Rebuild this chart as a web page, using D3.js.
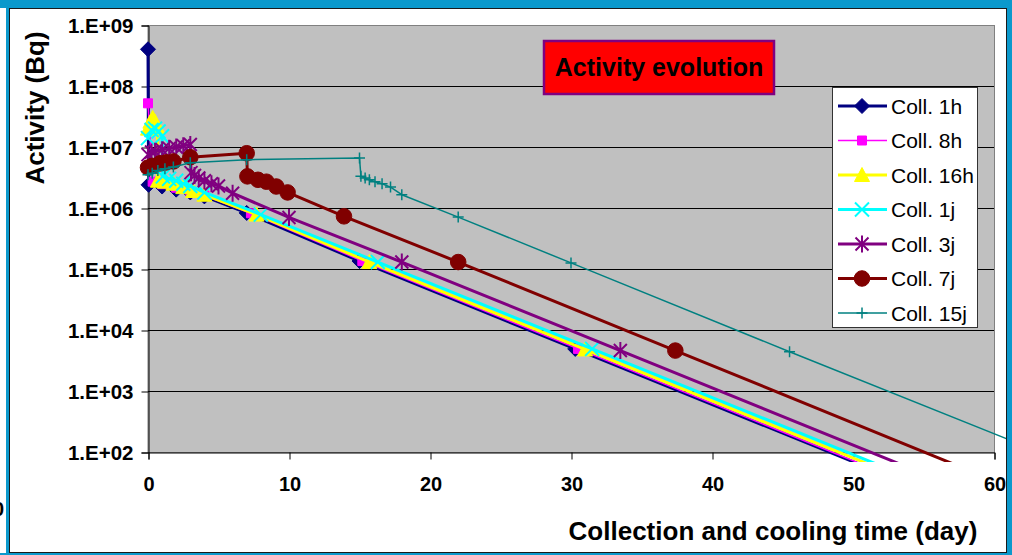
<!DOCTYPE html>
<html>
<head>
<meta charset="utf-8">
<script src="https://cdn.jsdelivr.net/npm/d3@7"></script>
<style>
  body { margin: 0; background: #0b99cc; }
  svg { display: block; }
  text { font-family: "Liberation Sans", Arial, sans-serif; }
</style>
</head>
<body>
<svg id="chart" width="1012" height="555"></svg>
<script>
const seriesNames = ["Coll. 1h", "Coll. 8h", "Coll. 16h", "Coll. 1j", "Coll. 3j", "Coll. 7j", "Coll. 15j"];

const coll1h = [[0, 4.0e8], [0.04, 2.4e6], [1, 2.25e6], [2, 2.0e6], [3, 1.8e6], [4, 1.55e6],
  [7, 8.3e5], [15, 1.35e5], [30.3, 4.9e3], [60, 8]];
const coll8h = [[0, 5.2e7], [0.33, 2.7e6], [1, 2.45e6], [2, 2.15e6], [3, 1.9e6], [4, 1.6e6],
  [7.3, 8.2e5], [15.2, 1.35e5], [30.5, 4.9e3], [60, 8.3]];
const coll16h = [[0, 2.0e7], [0.17, 2.6e7], [0.33, 3.0e7], [0.5, 2.6e7], [0.67, 2.1e7],
  [0.7, 2.8e6], [1.2, 2.7e6], [1.8, 2.5e6], [2.5, 2.2e6], [3.2, 1.9e6], [4, 1.65e6],
  [7.7, 7.8e5], [15.7, 1.3e5], [31, 4.8e3], [60, 9.3]];
const coll1j = [[0, 1.4e7], [0.25, 1.9e7], [0.5, 2.0e7], [0.75, 1.8e7], [1, 1.5e7],
  [1.05, 3.3e6], [1.5, 3.0e6], [2, 2.8e6], [2.5, 2.5e6], [3, 2.3e6], [4, 1.8e6],
  [8, 7.8e5], [16.3, 1.3e5], [31.5, 4.9e3], [60, 10.5]];
const coll3j = [[0, 7.5e6], [0.25, 8.3e6], [0.5, 8.5e6], [1, 9.0e6], [1.5, 9.5e6], [2, 1.0e7],
  [2.5, 1.05e7], [3, 1.1e7], [3.05, 3.8e6], [3.3, 3.4e6], [3.6, 3.1e6], [4, 2.8e6],
  [4.5, 2.5e6], [5, 2.3e6], [6, 1.75e6], [10, 7.0e5], [18, 1.3e5], [33.5, 4.6e3], [60, 15]];
const coll7j = [[0, 4.6e6], [0.3, 4.9e6], [0.85, 5.4e6], [1.3, 5.6e6], [1.8, 5.8e6], [3, 6.8e6],
  [7, 7.9e6], [7.05, 3.3e6], [7.8, 2.9e6], [8.4, 2.7e6], [9.1, 2.25e6], [9.9, 1.8e6],
  [13.9, 7.3e5], [22, 1.3e5], [37.4, 4.6e3], [60, 34]];
const coll15j = [[0, 3.5e6], [0.3, 3.7e6], [0.7, 4.1e6], [1.2, 4.4e6], [1.8, 4.7e6], [3, 5.5e6],
  [7, 6.2e6], [15, 6.6e6], [15.1, 3.3e6], [15.4, 3.1e6], [15.7, 2.9e6],
  [16.1, 2.7e6], [16.6, 2.5e6], [17.2, 2.2e6], [18, 1.65e6], [22, 7.1e5], [30, 1.26e5],
  [45.5, 4.4e3], [62, 130]];

const allSeries = [coll1h, coll8h, coll16h, coll1j, coll3j, coll7j, coll15j];

const yTicks = [1e2, 1e3, 1e4, 1e5, 1e6, 1e7, 1e8, 1e9];
const xTicks = [0, 10, 20, 30, 40, 50, 60];

// look of each series
const looks = [
  { color: "#000080", width: 3, marker: "diamond" },
  { color: "#ff00ff", width: 1.5, marker: "square" },
  { color: "#ffff00", width: 3, marker: "triangle" },
  { color: "#00ffff", width: 3, marker: "cross" },
  { color: "#800080", width: 3, marker: "star" },
  { color: "#800000", width: 3, marker: "circle" },
  { color: "#008080", width: 1.5, marker: "plus" }
];

const svg = d3.select("#chart");

// frame
svg.append("rect").attr("x", 0).attr("y", 8).attr("width", 6).attr("height", 545).attr("fill", "#fff");
svg.append("text").attr("x", -7).attr("y", 516).attr("font-size", 20).attr("font-weight", "bold").text("0");
svg.append("rect").attr("x", 9.5).attr("y", 8.5).attr("width", 997).attr("height", 544)
  .attr("fill", "#fff").attr("stroke", "#1a1a1a").attr("stroke-width", 1);

const pLeft = 148, pRight = 994, pTop = 25, pBottom = 452;

const x = d3.scaleLinear().domain([0, 60]).range([pLeft, pRight]);
const y = d3.scaleLog().domain([1e2, 1e9]).range([pBottom, pTop]);

// plot area
svg.append("rect").attr("x", pLeft).attr("y", pTop + 0.5).attr("width", pRight - pLeft + 0.5).attr("height", pBottom - pTop)
  .attr("fill", "#c0c0c0").attr("stroke", "#808080").attr("stroke-width", 1);

svg.append("g").selectAll("line")
  .data(yTicks.slice(1, -1))
  .join("line")
  .attr("x1", pLeft).attr("x2", pRight)
  .attr("y1", d => Math.round(y(d)) + 0.5).attr("y2", d => Math.round(y(d)) + 0.5)
  .attr("stroke", "#000").attr("stroke-width", 1);

// axes
const yAxis = svg.append("g").attr("transform", `translate(${pLeft + 0.5},0.5)`)
  .call(d3.axisLeft(y).tickValues(yTicks).tickSizeOuter(0).tickSize(7).tickPadding(8)
    .tickFormat(d => "1.E+" + String(Math.round(Math.log10(d))).padStart(2, "0")));
yAxis.select(".domain").attr("stroke", "#000");
yAxis.selectAll(".tick text").attr("font-size", 20.5).attr("font-weight", "bold").attr("fill", "#000")
  .attr("font-family", "'Liberation Sans', Arial, sans-serif");

const xAxis = svg.append("g").attr("transform", `translate(0.5,${pBottom + 0.5})`)
  .call(d3.axisBottom(x).tickValues(xTicks).tickSizeOuter(0).tickSize(7).tickPadding(17));
xAxis.select(".domain").attr("stroke", "#000");
xAxis.selectAll(".tick text").attr("font-size", 20).attr("font-weight", "bold").attr("fill", "#000")
  .attr("font-family", "'Liberation Sans', Arial, sans-serif");

// series
svg.append("clipPath").attr("id", "clip")
  .append("rect").attr("x", 0).attr("y", 0).attr("width", 1006).attr("height", 462);

function markerPath(type) {
  switch (type) {
    case "diamond": return "M0,-7.5L7.5,0L0,7.5L-7.5,0Z";
    case "square": return "M-4.5,-4.5H4.5V4.5H-4.5Z";
    case "triangle": return "M0,-7.5L7.5,6.5L-7.5,6.5Z";
    case "cross": return "M-7,-7L7,7M7,-7L-7,7";
    case "star": return "M-6.5,-6.5L6.5,6.5M6.5,-6.5L-6.5,6.5M0,-8.5V8.5";
    case "circle": return d3.symbol(d3.symbolCircle, 190)();
    case "plus": return "M-5.5,0H5.5M0,-5.5V5.5";
  }
}
const filled = { diamond: true, square: true, triangle: true, circle: true };

const line = d3.line().x(d => x(d[0])).y(d => y(d[1]));
const plot = svg.append("g").attr("clip-path", "url(#clip)");

allSeries.forEach((data, i) => {
  const lk = looks[i];
  const g = plot.append("g");
  g.append("path").attr("d", line(data)).attr("fill", "none")
    .attr("stroke", lk.color).attr("stroke-width", lk.width).attr("stroke-linejoin", "round");
  g.selectAll(".mk").data(data.filter(d => x(d[0]) <= pRight + 2)).join("path")
    .attr("class", "mk")
    .attr("transform", d => `translate(${x(d[0])},${y(d[1])})`)
    .attr("d", markerPath(lk.marker))
    .attr("fill", filled[lk.marker] ? lk.color : "none")
    .attr("stroke", lk.color)
    .attr("stroke-width", filled[lk.marker] ? 1 : (lk.marker == "plus" ? 1.5 : 2));
});

// title box
svg.append("rect").attr("x", 544).attr("y", 41).attr("width", 230).attr("height", 53)
  .attr("fill", "#ff0000").attr("stroke", "#800080").attr("stroke-width", 2.5);
svg.append("text").attr("x", 659).attr("y", 76).attr("text-anchor", "middle")
  .attr("font-size", 25).attr("font-weight", "bold").text("Activity evolution");

// legend
const legend = svg.append("g");
legend.append("rect").attr("x", 832.5).attr("y", 87.5).attr("width", 145).attr("height", 240)
  .attr("fill", "#fff").attr("stroke", "#333").attr("stroke-width", 1);
seriesNames.forEach((name, i) => {
  const lk = looks[i];
  const cy = 106 + i * 34.5;
  legend.append("line").attr("x1", 838).attr("x2", 887).attr("y1", cy).attr("y2", cy)
    .attr("stroke", lk.color).attr("stroke-width", lk.width);
  legend.append("path").attr("transform", `translate(862,${cy})`).attr("d", markerPath(lk.marker))
    .attr("fill", filled[lk.marker] ? lk.color : "none").attr("stroke", lk.color)
    .attr("stroke-width", filled[lk.marker] ? 1 : (lk.marker == "plus" ? 1.5 : 2));
  legend.append("text").attr("x", 891).attr("y", cy + 7.5).attr("font-size", 21).text(name);
});

// axis titles
svg.append("text").attr("x", 773).attr("y", 540).attr("text-anchor", "middle")
  .attr("font-size", 26).attr("font-weight", "bold").text("Collection and cooling time (day)");
svg.append("text").attr("transform", "translate(44,108) rotate(-90)").attr("text-anchor", "middle")
  .attr("font-size", 26).attr("font-weight", "bold").text("Activity (Bq)");
</script>
</body>
</html>
